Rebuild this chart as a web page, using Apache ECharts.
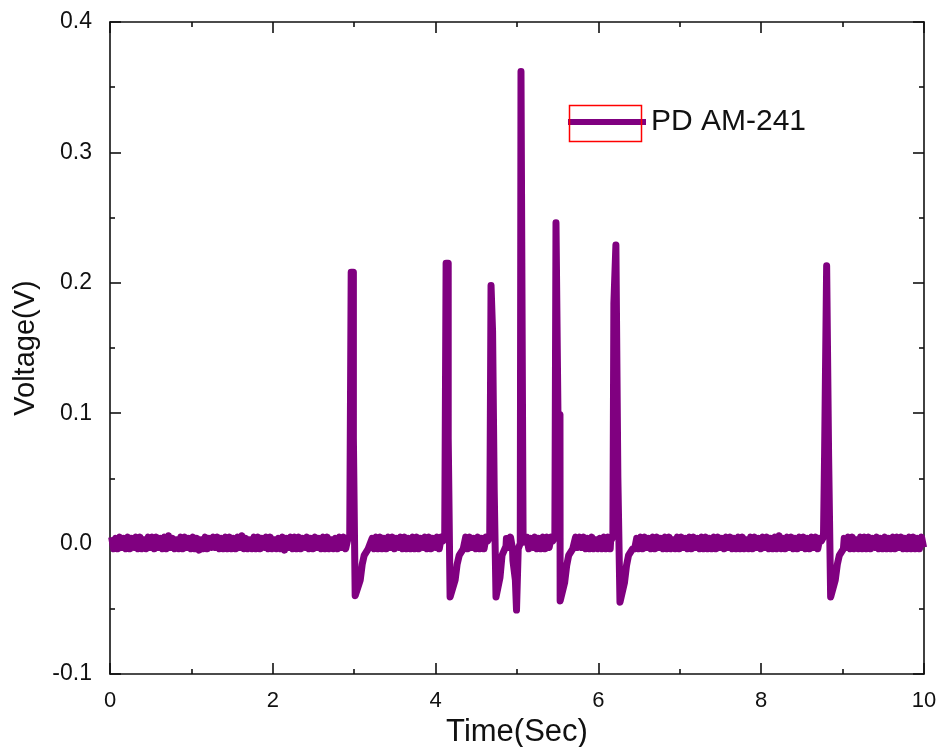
<!DOCTYPE html>
<html>
<head>
<meta charset="utf-8">
<script src="https://cdn.jsdelivr.net/npm/echarts@6/dist/echarts.min.js"></script>
<style>html,body{margin:0;padding:0;background:#fff;}#chart{width:940px;height:747px;}</style>
</head>
<body>
<div id="chart"></div>
<script>
// ---- data ----
const seriesName = 'PD AM-241';
const xTicks = [0, 2, 4, 6, 8, 10];
const yTicks = [-0.1, 0.0, 0.1, 0.2, 0.3, 0.4];

// baseline noise, sampled every 0.025 s starting at 0.02 s (volts)
const noiseStart = 0.02;
const noiseStep = 0.025;
const noise = [
  0.005,-0.004,0.004,-0.004,0.005,-0.003,0.004,-0.004,0.005,-0.004,
  0.004,-0.003,0.005,-0.004,0.005,-0.004,0.003,-0.004,0.005,-0.003,
  0.005,-0.004,0.005,-0.003,0.004,-0.004,0.005,-0.004,0.006,-0.003,
  0.004,-0.004,0.003,-0.004,0.005,-0.004,0.005,-0.003,0.004,-0.004,
  0.005,-0.004,0.004,-0.005,0.003,-0.004,0.005,-0.004,0.004,-0.003,
  0.005,-0.003,0.005,-0.004,0.004,-0.004,0.005,-0.004,0.005,-0.004,
  0.004,-0.004,0.005,-0.003,0.006,-0.004,0.004,-0.004,0.003,-0.004,
  0.005,-0.004,0.005,-0.004,0.004,-0.003,0.005,-0.004,0.005,-0.004,
  0.003,-0.004,0.004,-0.004,0.005,-0.005,0.004,-0.003,0.005,-0.004,
  0.005,-0.004,0.005,-0.004,0.004,-0.003,0.005,-0.004,0.004,-0.004,
  0.005,-0.003,0.004,-0.004,0.005,-0.004,0.005,-0.004,0.003,-0.004,
  0.004,-0.004,0.005,-0.003,0.005,-0.004,0.006,-0.004,0.005,-0.003,
  0.005,-0.004,0.004,-0.004,0.003,-0.004,0.005,-0.003,0.004,-0.004,
  0.005,-0.004,0.005,-0.004,0.004,-0.004,0.005,-0.003,0.005,-0.004,
  0.004,-0.003,0.005,-0.004,0.005,-0.004,0.004,-0.004,0.005,-0.004,
  0.005,-0.004,0.004,-0.003,0.005,-0.004,0.005,-0.004,0.004,-0.003,
  0.005,-0.004,0.005,-0.004,0.004,-0.004,0.003,-0.004,0.005,-0.004,
  0.004,-0.003,0.005,-0.004,0.005,-0.004,0.005,-0.003,0.004,-0.004,
  0.005,-0.004,0.004,-0.004,0.005,-0.003,0.005,-0.004,0.006,-0.004,
  0.004,-0.004,0.005,-0.004,0.004,-0.003,0.005,-0.004,0.005,-0.004,
  0.005,-0.004,0.003,-0.004,0.005,-0.004,0.004,-0.003,0.005,-0.004,
  0.004,-0.004,0.005,-0.004,0.005,-0.003,0.005,-0.004,0.004,-0.004,
  0.005,-0.004,0.004,-0.003,0.005,-0.004,0.004,-0.004,0.005,-0.003,
  0.005,-0.003,0.005,-0.004,0.004,-0.004,0.005,-0.004,0.003,-0.004,
  0.004,-0.004,0.005,-0.004,0.005,-0.004,0.004,-0.003,0.005,-0.004,
  0.005,-0.004,0.004,-0.004,0.005,-0.003,0.006,-0.004,0.004,-0.004,
  0.005,-0.004,0.005,-0.003,0.004,-0.004,0.005,-0.004,0.005,-0.003,
  0.004,-0.004,0.005,-0.004,0.005,-0.004,0.003,-0.004,0.005,-0.004,
  0.005,-0.003,0.004,-0.004,0.005,-0.004,0.005,-0.003,0.004,-0.004,
  0.005,-0.004,0.005,-0.004,0.004,-0.004,0.005,-0.004,0.005,-0.003,
  0.004,-0.004,0.005,-0.003,0.005,-0.004,0.004,-0.004,0.005,-0.004,
  0.005,-0.004,0.003,-0.004,0.005,-0.004,0.005,-0.003,0.004,-0.004,
  0.005,-0.003,0.005,-0.004,0.004,-0.004,0.005,-0.004,0.006,-0.004,
  0.004,-0.004,0.005,-0.003,0.005,-0.004,0.004,-0.004,0.005,-0.003,
  0.005,-0.004,0.004,-0.004,0.005,-0.003,0.005,-0.004,0.004,-0.004,
  0.005,-0.004,0.005,-0.004,0.004,-0.004,0.005,-0.003,0.005,-0.004,
  0.004,-0.003,0.005,-0.004,0.005,-0.004,0.003,-0.004,0.005,-0.004,
  0.005,-0.004,0.005,-0.004,0.004,-0.003,0.005,-0.004,0.004,-0.004,
  0.005,-0.004,0.004,-0.004,0.005,-0.004,0.005,-0.003,0.005,-0.004,
  0.004,-0.004,0.005,-0.004,0.005,-0.004,0.004,-0.004,0.005,-0.003
];

// pulses: [time (s), voltage (V)]
const pulse1 = [[2.92,0.003],[2.945,0.005],[2.963,0.208],[2.99,0.208],[2.99,0.081],[3.012,0.080],[3.012,-0.040],[3.035,-0.041],[3.074,-0.028],[3.098,-0.016],[3.123,-0.009],[3.172,-0.004]];
const pulse2 = [[4.09,0.002],[4.112,0.005],[4.129,0.215],[4.155,0.215],[4.155,0.081],[4.178,0.080],[4.178,-0.041],[4.20,-0.041],[4.24,-0.028],[4.264,-0.016],[4.29,-0.009],[4.34,-0.004]];
const pulse3 = [[4.64,0.002],[4.665,0.005],[4.681,0.198],[4.695,0.198],[4.70,0.163],[4.72,0.162],[4.72,0.041],[4.74,0.040],[4.742,-0.041],[4.765,-0.041],[4.791,-0.026],[4.816,-0.009],[4.865,-0.002]];
const pulse4 = [[4.95,-0.013],[4.98,-0.028],[4.994,-0.051],[5.005,-0.051],[5.015,-0.004],[5.04,0.000],[5.049,0.362],[5.07,0.362],[5.075,0.001],[5.10,0.003]];
const pulse5 = [[5.44,0.002],[5.465,0.005],[5.479,0.246],[5.503,0.246],[5.503,0.100],[5.528,0.099],[5.53,-0.044],[5.55,-0.044],[5.585,-0.030],[5.61,-0.017],[5.635,-0.009],[5.685,-0.004]];
const pulse6 = [[6.15,0.002],[6.178,0.005],[6.19,0.184],[6.205,0.185],[6.215,0.229],[6.239,0.229],[6.239,0.051],[6.262,0.050],[6.265,-0.045],[6.285,-0.045],[6.32,-0.030],[6.345,-0.017],[6.37,-0.009],[6.42,-0.004]];
const pulse7 = [[8.74,0.002],[8.765,0.005],[8.779,0.070],[8.80,0.071],[8.804,0.213],[8.828,0.213],[8.828,0.068],[8.845,0.067],[8.853,-0.041],[8.875,-0.041],[8.91,-0.028],[8.935,-0.016],[8.96,-0.009],[9.01,-0.004]];
const pulses = [pulse1, pulse2, pulse3, pulse4, pulse5, pulse6, pulse7];

// ---- build the trace ----
const windows = pulses.map(p => [p[0][0], p[p.length - 1][0]]);
const trace = [];
noise.forEach((v, i) => {
  const t = +(noiseStart + i * noiseStep).toFixed(3);
  if (!windows.some(w => t >= w[0] && t <= w[1])) trace.push([t, v]);
});
pulses.forEach(p => p.forEach(pt => trace.push(pt)));
trace.sort((a, b) => a[0] - b[0]);

const FONT = '"Liberation Sans", Arial, sans-serif';
const AX = '#111';
const lineW = 1.6;

function axisBase(extra) {
  return Object.assign({
    type: 'value',
    axisLine: { show: true, onZero: false, lineStyle: { color: AX, width: lineW } },
    axisTick: { show: true, inside: true, length: 11, lineStyle: { color: AX, width: lineW } },
    minorTick: { show: true, splitNumber: 2, length: 5, lineStyle: { color: AX, width: lineW } },
    splitLine: { show: false },
    minorSplitLine: { show: false }
  }, extra);
}

const chart = echarts.init(document.getElementById('chart'), null, { renderer: 'canvas' });
chart.setOption({
  animation: false,
  backgroundColor: '#fff',
  grid: { left: 110, right: 16, top: 22, bottom: 73, containLabel: false, outerBoundsMode: 'none' },
  xAxis: [
    axisBase({
      min: xTicks[0], max: xTicks[xTicks.length - 1], interval: xTicks[1] - xTicks[0],
      position: 'bottom',
      axisLabel: { fontSize: 22, margin: 16, color: AX, fontFamily: FONT },
      name: 'Time(Sec)', nameLocation: 'middle', nameGap: 37,
      nameTextStyle: { fontSize: 31, color: AX, fontFamily: FONT }
    }),
    axisBase({
      min: xTicks[0], max: xTicks[xTicks.length - 1], interval: xTicks[1] - xTicks[0],
      position: 'top', axisLabel: { show: false }
    })
  ],
  yAxis: [
    axisBase({
      min: yTicks[0], max: yTicks[yTicks.length - 1], interval: 0.1,
      position: 'left',
      axisLabel: { fontSize: 23, margin: 18, color: AX, fontFamily: FONT, formatter: v => v.toFixed(1) },
      name: 'Voltage(V)', nameLocation: 'middle', nameGap: 70,
      nameTextStyle: { fontSize: 29, color: AX, fontFamily: FONT }
    }),
    axisBase({
      min: yTicks[0], max: yTicks[yTicks.length - 1], interval: 0.1,
      position: 'right', axisLabel: { show: false }
    })
  ],
  legend: {
    show: true,
    left: 565, top: 107, padding: 0,
    itemWidth: 78, itemHeight: 28,
    data: [{ name: seriesName, itemStyle: { color: 'transparent', borderWidth: 0 } }],
    lineStyle: { width: 6, color: '#800080' },
    textStyle: { fontSize: 30, color: AX, fontFamily: FONT, padding: [0, 0, 0, 0] },
    selectedMode: false
  },
  graphic: [{
    type: 'rect', left: 567, top: 103, z: 100, silent: true,
    shape: { width: 72, height: 36 },
    style: { fill: 'none', stroke: '#ff0000', lineWidth: 1.5 }
  }],
  series: [{
    name: seriesName,
    type: 'line',
    xAxisIndex: 0, yAxisIndex: 0,
    data: trace,
    showSymbol: false,
    symbol: 'none',
    sampling: null,
    lineStyle: { color: '#800080', width: 7, join: 'round', cap: 'butt' },
    itemStyle: { color: '#800080' },
    clip: true
  }]
});
</script>
</body>
</html>
